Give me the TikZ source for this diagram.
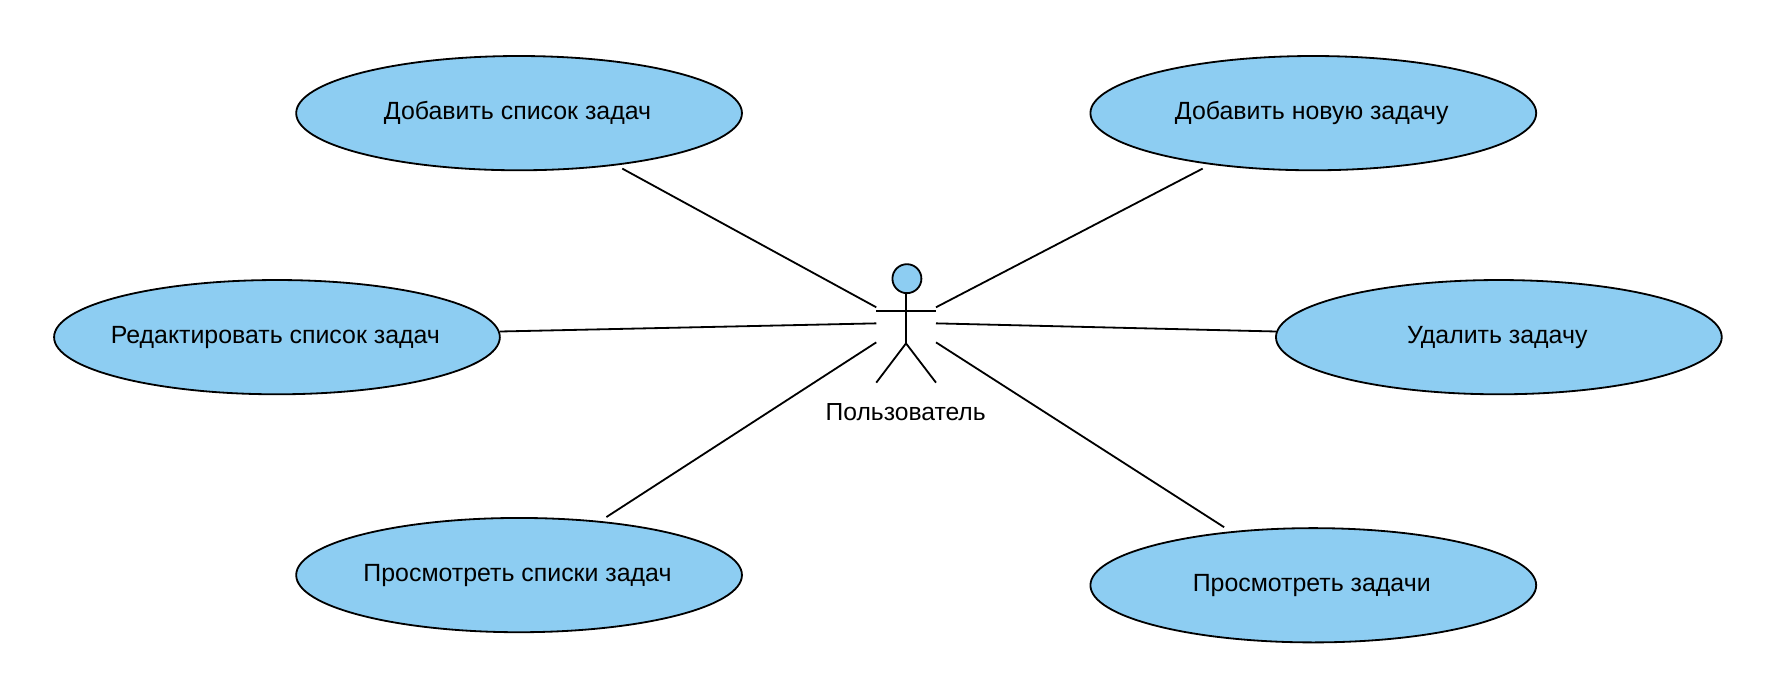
\documentclass[tikz,border=0pt]{standalone}
\usepackage{fontspec}
\setmainfont{Liberation Sans}
\usetikzlibrary{shapes.geometric}
\definecolor{uc}{HTML}{8DCDF2}
\tikzset{
  x=1pt,y=-1pt,
  usecase/.style={ellipse,draw=black,fill=uc,line width=1.6pt,minimum width=394pt,minimum height=101pt,inner ysep=0pt,inner xsep=-40pt,outer sep=0pt,font=\fontsize{22}{26}\selectfont,execute at begin node=\kern-2.8pt},
  link/.style={line width=1.6pt,black},
  lbl/.style={inner sep=0pt,font=\fontsize{21.8}{26}\selectfont}
}
\begin{document}
\begin{tikzpicture}
\useasboundingbox (0,0) rectangle (1568,611.6);
\fill[white] (0,0) rectangle (1568,611.6);
\node[usecase] (a) at (458.8,100) {Добавить список задач};
\node[usecase] (b) at (1160.8,100) {Добавить новую задачу};
\node[usecase] (c) at (244.8,298) {Редактировать список задач};
\node[usecase] (d) at (1324.8,298) {Удалить задачу};
\node[usecase] (e) at (458.8,508.3) {Просмотреть списки задач};
\node[usecase] (f) at (1160.8,517.3) {Просмотреть задачи};
\coordinate (ua) at (550,149);
\coordinate (aa) at (774.5,271.6);
\coordinate (ub) at (1063,149);
\coordinate (ab) at (827.3,271.6);
\coordinate (uc1) at (442,293);
\coordinate (ac) at (774.5,285.8);
\coordinate (ud) at (1128,293);
\coordinate (ad) at (827.3,285.8);
\coordinate (ue) at (536,457);
\coordinate (ae) at (774.5,302.6);
\coordinate (uf) at (1082,466);
\coordinate (af) at (827.3,302.6);
\draw[link] (ua) -- (aa);
\draw[link] (ub) -- (ab);
\draw[link] (uc1) -- (ac);
\draw[link] (ud) -- (ad);
\draw[link] (ue) -- (ae);
\draw[link] (uf) -- (af);
\node[circle,draw=black,fill=uc,line width=1.6pt,minimum size=25.6pt,inner sep=0pt] (head) at (801.6,246.3) {};
\coordinate (hip) at (800.8,303.5);
\coordinate (armL) at (774.5,274.9);
\coordinate (armR) at (827.3,274.9);
\coordinate (footL) at (774.5,338.2);
\coordinate (footR) at (827.3,338.2);
\draw[link] (head.south -| hip) -- (hip);
\draw[link] (armL) -- (armR);
\draw[link] (footL) -- (hip) -- (footR);
\node[lbl] (actor) at (800.5,364) {Пользователь};
\end{tikzpicture}
\end{document}
